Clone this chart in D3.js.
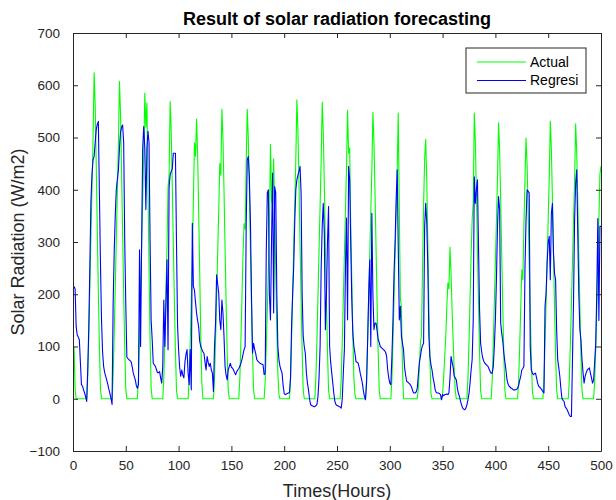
<!DOCTYPE html>
<html>
<head>
<meta charset="utf-8">
<script src="https://cdn.jsdelivr.net/npm/d3@7"></script>
<style>
  html, body { margin: 0; padding: 0; background: #fff; }
  svg { display: block; font-family: "Liberation Sans", Arial, sans-serif; }
</style>
</head>
<body>
<svg id="chart" width="616" height="500"></svg>
<script>
// ---- DATA ----
const chartTitle = "Result of solar radiation forecasting";
const xLabel = "Times(Hours)";
const yLabel = "Solar Radiation (W/m2)";
const seriesNames = ["Actual", "Regresi"];
const xTicks = [0, 50, 100, 150, 200, 250, 300, 350, 400, 450, 500];
const yTicks = [-100, 0, 100, 200, 300, 400, 500, 600, 700];

// Actual solar radiation, hours 1..500 (24 values per row)
const actual = [
  100,18,0,0,0,0,0,0,0,0,0,0,0,44,125,218,312,406,499,624,562,449,324,206,
  100,19,0,0,0,0,0,0,0,0,0,0,0,42,121,212,304,395,486,607,546,437,316,200,
  97,18,0,0,0,0,0,0,0,0,0,0,0,41,117,205,293,380,468,585,520,566,400,250,
  110,20,0,0,0,0,0,0,0,0,0,0,0,40,114,200,290,405,428,569,512,410,296,188,
  91,17,0,0,0,0,0,0,0,0,0,0,0,37,107,187,268,380,490,464,535,470,360,240,
  120,30,0,0,0,0,0,0,0,0,0,0,0,39,111,194,277,360,450,428,554,499,399,288,
  183,89,17,0,0,0,0,0,0,0,0,0,0,39,111,194,277,335,325,450,554,499,399,288,
  183,89,17,0,0,0,0,0,0,0,0,0,0,34,97,170,244,330,487,380,370,459,360,240,
  130,50,8,0,0,0,0,0,0,0,0,0,0,40,114,200,286,372,458,572,515,412,297,189,
  92,17,0,0,0,0,0,0,0,0,0,0,0,40,114,199,284,369,454,568,511,409,295,187,
  91,17,0,0,0,0,0,0,0,0,0,0,0,39,110,193,276,359,442,552,470,480,333,230,
  120,40,8,0,0,0,0,0,0,0,0,0,0,38,110,192,274,356,438,548,493,395,285,181,
  88,16,0,0,0,0,0,0,0,0,0,0,0,38,109,191,274,356,438,547,360,193,176,60,
  0,0,0,0,0,0,0,0,0,0,0,0,0,0,20,60,108,120,250,370,460,496,420,300,
  180,75,10,0,0,0,0,0,0,0,0,0,0,10,40,80,120,176,222,210,290,240,170,110,
  55,15,0,0,0,0,0,0,0,0,0,0,0,38,109,191,274,343,375,547,492,394,285,181,
  88,16,0,0,0,0,0,0,0,0,0,0,37,106,185,264,343,422,528,475,380,275,174,84,
  16,0,0,0,0,0,0,0,0,0,0,0,0,35,100,175,247,228,330,420,499,449,359,259,
  165,80,15,0,0,0,0,0,0,0,0,0,0,37,106,186,266,345,425,531,478,382,276,175,
  85,16,0,0,0,0,0,0,0,0,0,0,0,37,105,184,263,342,421,526,473,379,274,174,
  84,16,0,0,0,0,0,0,0,0,0,0,0,33,95,170,260,345,430,445
];

// Regression forecast, hours 1..500 (24 values per row)
const regresi = [
  215,210,138,122,118,113,70,27,24,17,11,3,-5,60,140,260,380,430,457,464,490,515,525,531,
  394,260,151,90,62,50,43,35,27,18,10,0,-11,180,280,350,400,420,438,480,510,520,524,489,
  300,180,80,77,75,73,71,62,50,43,36,25,20,27,285,100,300,480,521,480,362,480,512,490,
  300,150,113,68,65,62,56,50,50,52,40,30,62,189,100,180,266,94,406,429,435,440,470,470,
  470,300,140,94,60,43,55,45,40,70,85,94,50,27,94,17,336,215,208,185,164,150,138,110,
  100,95,90,87,70,55,81,70,62,68,55,49,14,100,145,237,220,202,150,132,189,164,119,62,
  45,36,55,62,68,60,59,55,50,46,52,55,58,62,68,75,85,94,100,330,457,464,425,340,
  200,87,106,95,87,75,72,70,68,67,66,65,46,49,279,394,400,200,151,300,432,164,406,394,
  202,100,75,62,55,49,25,10,8,9,10,11,12,40,140,200,253,340,400,419,428,435,445,394,
  200,120,100,87,50,30,17,0,-11,-13,-14,-15,-15,-13,-11,5,40,100,250,330,374,317,132,202,
  300,368,100,70,50,30,10,-5,-11,-13,-14,-15,-16,-18,0,50,94,250,346,151,445,420,300,190,
  126,100,87,71,70,68,60,49,40,30,15,4,-2,30,110,200,266,100,355,200,132,145,145,130,
  113,108,100,98,96,94,92,89,81,55,40,30,27,81,150,240,300,380,438,292,151,177,120,106,
  94,60,45,33,32,30,28,25,20,13,11,11,13,20,45,70,81,95,102,106,330,374,336,253,
  120,80,65,55,40,30,17,12,11,11,10,8,-2,8,6,8,8,9,8,11,40,81,70,60,
  43,40,36,20,10,4,-5,-12,-18,-20,-21,-18,-12,-2,10,30,55,75,151,425,374,400,419,292,
  170,106,90,78,72,68,66,64,62,57,52,49,49,62,100,151,230,330,387,362,145,125,110,87,
  70,55,36,28,24,22,20,19,17,17,17,18,20,25,35,43,55,58,62,250,340,400,397,394,
  100,55,49,46,48,49,40,30,24,22,20,17,14,11,177,202,260,300,311,228,355,374,280,240,
  228,132,75,60,43,20,1,-3,-5,-15,-18,-21,-26,-31,-34,-34,75,189,343,413,438,317,200,132,
  113,75,50,30,43,50,55,57,59,49,40,30,36,70,106,202,345,150,330,330
];

const seriesColors = ["#00ff00", "#0000ff"];

// ---- CHART ----
const W = 616, H = 500;
const margin = { top: 33, right: 15, bottom: 49, left: 73 };
const iw = W - margin.left - margin.right;
const ih = H - margin.top - margin.bottom;
const axisColor = "#262626";

const svg = d3.select("#chart");
const g = svg.append("g").attr("transform", `translate(${margin.left},${margin.top})`);

const x = d3.scaleLinear().domain([0, 500]).range([0, iw]);
const y = d3.scaleLinear().domain([-100, 700]).range([ih, 0]);

g.append("rect").attr("width", iw).attr("height", ih).attr("fill", "#fff");

svg.append("defs").append("clipPath").attr("id", "clip")
  .append("rect").attr("width", iw).attr("height", ih);

const seriesData = [actual, regresi];
const line = d3.line()
  .x((d, i) => x(i + 1))
  .y(d => y(d));

const plot = g.append("g").attr("clip-path", "url(#clip)");
seriesData.forEach((s, k) => {
  plot.append("path")
    .datum(s)
    .attr("fill", "none")
    .attr("stroke", seriesColors[k])
    .attr("stroke-width", 1.1)
    .attr("stroke-linejoin", "round")
    .attr("d", line);
});

// axes (MATLAB style: ticks inside, on all four sides)
const tickLen = 5;
const fmt = d3.format("d");
const xAxisB = d3.axisBottom(x).tickValues(xTicks).tickFormat(fmt).tickSizeInner(-tickLen).tickSizeOuter(0).tickPadding(9);
const xAxisT = d3.axisTop(x).tickValues(xTicks).tickFormat("").tickSizeInner(-tickLen).tickSizeOuter(0);
const yAxisL = d3.axisLeft(y).tickValues(yTicks).tickFormat(fmt).tickSizeInner(-tickLen).tickSizeOuter(0).tickPadding(13);
const yAxisR = d3.axisRight(y).tickValues(yTicks).tickFormat("").tickSizeInner(-tickLen).tickSizeOuter(0);

function style(sel) {
  sel.select(".domain").attr("stroke", axisColor).attr("stroke-width", 1);
  sel.selectAll(".tick line").attr("stroke", axisColor).attr("stroke-width", 1);
  sel.selectAll(".tick text").attr("fill", axisColor)
    .style("font-family", "'Liberation Sans', Arial, sans-serif").style("font-size", "13.5px");
}
g.append("g").attr("transform", `translate(0,${ih})`).call(xAxisB).call(style);
g.append("g").call(xAxisT).call(style);
g.append("g").call(yAxisL).call(style);
g.append("g").attr("transform", `translate(${iw},0)`).call(yAxisR).call(style);

// title
svg.append("text")
  .attr("x", margin.left + iw / 2).attr("y", 25)
  .attr("text-anchor", "middle")
  .attr("fill", "#000")
  .style("font-size", "18px").style("font-weight", "bold")
  .text(chartTitle);

// axis labels
svg.append("text")
  .attr("x", margin.left + iw / 2).attr("y", 497)
  .attr("text-anchor", "middle")
  .attr("fill", axisColor)
  .style("font-size", "18px")
  .text(xLabel);

svg.append("text")
  .attr("transform", `translate(24,${margin.top + ih / 2}) rotate(-90)`)
  .attr("text-anchor", "middle")
  .attr("fill", axisColor)
  .style("font-size", "18px")
  .text(yLabel);

// legend
const lg = svg.append("g").attr("transform", "translate(466,48)");
lg.append("rect").attr("width", 120).attr("height", 45)
  .attr("fill", "#fff").attr("stroke", axisColor).attr("stroke-width", 1);
seriesNames.forEach((name, k) => {
  const yy = 14 + k * 18.5;
  lg.append("line").attr("x1", 11).attr("x2", 60).attr("y1", yy).attr("y2", yy)
    .attr("stroke", seriesColors[k]).attr("stroke-width", 1.1);
  lg.append("text").attr("x", 64).attr("y", yy).attr("dy", "0.35em")
    .attr("fill", "#000").style("font-size", "14px").text(name);
});
</script>
</body>
</html>
